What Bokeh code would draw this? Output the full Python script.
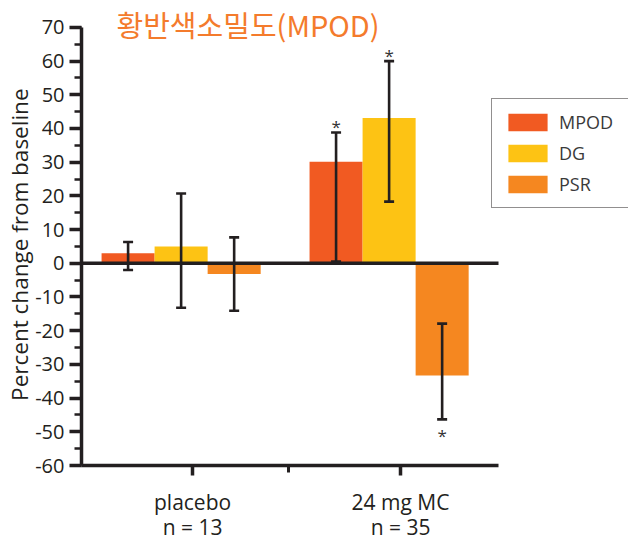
from bokeh.plotting import figure
from bokeh.models import (ColumnDataSource, Whisker, TeeHead, Legend, LegendItem,
                          FixedTicker, SingleIntervalTicker, Label, Range1d)
from bokeh.embed import file_html
from bokeh.resources import INLINE
from bokeh.core.properties import value

# ---- data ----
group_labels = ["placebo\nn = 13", "24 mg MC\nn = 35"]
group_pos = [1, 2]
series = ["MPOD", "DG", "PSR"]
colors = ["#f15a22", "#fdc314", "#f58720"]

mpod = [3.0, 30.1]
dg = [5.0, 43.1]
psr = [-3.2, -33.3]

mpod_lo = [-2.0, 0.5]
mpod_hi = [6.3, 38.8]
dg_lo = [-13.2, 18.3]
dg_hi = [20.7, 60.0]
psr_lo = [-14.1, -46.3]
psr_hi = [7.7, -17.9]

mpod_sig = ["", "*"]
dg_sig = ["", "*"]
psr_sig = ["", "*"]

y_ticks = list(range(-60, 71, 10))
title_text = "황반색소밀도(MPOD)"
y_label = "Percent change from baseline"

# ---- layout / style ----
offsets = [-0.31, -0.055, 0.20]
bar_w = 0.255
ink = "#231f20"
FONT = "Open Sans"
X0, X_AXIS_END, X1 = 0.466, 2.471, 3.096
Y0, Y1 = -60, 77.98
NBSP = "\u00a0"

p = figure(width=628, height=543, output_backend="svg", toolbar_location=None,
           x_range=Range1d(X0, X1), y_range=Range1d(Y0, Y1),
           min_border_left=81, min_border_right=0, min_border_top=0,
           min_border_bottom=76)
p.outline_line_color = None
p.xgrid.visible = False
p.ygrid.visible = False
p.background_fill_color = "white"
p.border_fill_color = "white"

vals = [mpod, dg, psr]
los = [mpod_lo, dg_lo, psr_lo]
his = [mpod_hi, dg_hi, psr_hi]
sigs = [mpod_sig, dg_sig, psr_sig]

items = []
bar_sources = []
for i, name in enumerate(series):
    xs = [g + offsets[i] for g in group_pos]
    src = ColumnDataSource(dict(x=xs, top=vals[i], lo=los[i], hi=his[i], sig=sigs[i]))
    bar_sources.append(src)
    r = p.vbar(x="x", top="top", bottom=0, width=bar_w, source=src,
               fill_color=colors[i], line_color=None)
    items.append(LegendItem(label=name, renderers=[r]))

# zero baseline across the plotting area
p.segment(x0=[X0], y0=[0], x1=[X_AXIS_END], y1=[0], line_color=ink, line_width=3.5)

for i, src in enumerate(bar_sources):
    w = Whisker(source=src, base="x", upper="hi", lower="lo", level="annotation",
                line_color=ink, line_width=2.6,
                upper_head=TeeHead(size=10, line_color=ink, line_width=2.6),
                lower_head=TeeHead(size=10, line_color=ink, line_width=2.6))
    p.add_layout(w)

# significance stars
for i in range(3):
    up_x, up_y, up_t, dn_x, dn_y, dn_t = [], [], [], [], [], []
    for j in range(len(group_pos)):
        if not sigs[i][j]:
            continue
        x = group_pos[j] + offsets[i]
        if vals[i][j] >= 0:
            up_x.append(x); up_y.append(his[i][j]); up_t.append(sigs[i][j])
        else:
            dn_x.append(x); dn_y.append(los[i][j]); dn_t.append(sigs[i][j])
    if up_x:
        p.text(x=up_x, y=up_y, text=up_t, text_align="center", text_baseline="middle",
               y_offset=-6, text_font=value(FONT), text_font_size="17px", text_color="#333333")
    if dn_x:
        p.text(x=dn_x, y=dn_y, text=dn_t, text_align="center", text_baseline="middle",
               y_offset=16, text_font=value(FONT), text_font_size="17px", text_color="#333333")

# axes
ya = p.yaxis[0]
ya.ticker = SingleIntervalTicker(interval=10, num_minor_ticks=2)
ya.major_label_overrides = {t: str(t) for t in y_ticks}
ya.bounds = (-60, 70)
ya.axis_line_color = ink
ya.axis_line_width = 3.5
ya.major_tick_line_color = ink
ya.major_tick_line_width = 3.5
ya.major_tick_out = 12
ya.major_tick_in = 0
ya.minor_tick_line_color = ink
ya.minor_tick_line_width = 2.5
ya.minor_tick_out = 7
ya.minor_tick_in = 0
ya.major_label_text_font = FONT
ya.major_label_text_font_size = "20px"
ya.major_label_text_color = ink
ya.major_label_standoff = 5
# trailing no-break spaces centre the label on the -60..70 axis span
ya.axis_label = y_label + NBSP * 4
ya.axis_label_text_font = FONT
ya.axis_label_text_font_style = "normal"
ya.axis_label_text_font_size = "22.5px"
ya.axis_label_text_line_height = 0.9
ya.axis_label_text_color = ink
ya.axis_label_standoff = -3

xa = p.xaxis[0]
xa.ticker = FixedTicker(ticks=group_pos, minor_ticks=[1.46])
xa.major_label_overrides = {g: lab for g, lab in zip(group_pos, group_labels)}
xa.bounds = (X0, X_AXIS_END)
xa.axis_line_color = ink
xa.axis_line_width = 3.5
xa.major_tick_line_color = ink
xa.major_tick_line_width = 3.5
xa.major_tick_out = 10
xa.major_tick_in = 0
xa.minor_tick_line_color = ink
xa.minor_tick_line_width = 3
xa.minor_tick_out = 7
xa.minor_tick_in = 0
xa.major_label_text_font = FONT
xa.major_label_text_font_size = "21px"
xa.major_label_text_color = ink
xa.major_label_text_line_height = 0.9
xa.major_label_standoff = 12

# legend
legend = Legend(items=items, location=(410, 257), orientation="vertical",
                glyph_width=49, glyph_height=22, label_height=22, spacing=7,
                padding=11, margin=0, label_standoff=7, label_width=58,
                label_text_font=FONT, label_text_font_size="18px",
                label_text_color="#3a3a3a",
                border_line_color=ink, border_line_width=1.2,
                background_fill_color="white", background_fill_alpha=1)
p.add_layout(legend)

# title
title = Label(x=X0, y=Y1, x_offset=35, y_offset=-2.5, text=title_text,
              text_baseline="top", text_align="left",
              text_font="Noto Sans CJK KR", text_font_size="29px",
              text_color="#f47b2c")
p.add_layout(title)

html = file_html(p, INLINE)
open("out.html", "w").write(html)
